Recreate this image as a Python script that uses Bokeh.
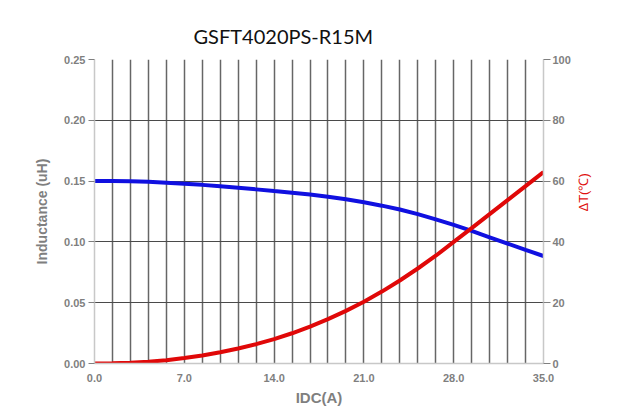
import math
from bokeh.plotting import figure
from bokeh.models import Range1d, LinearAxis, FixedTicker, NumeralTickFormatter, Title
from bokeh.embed import file_html
from bokeh.resources import INLINE

# ---- data ----
title_text = "GSFT4020PS-R15M"
current = [0.0, 1.4, 2.8, 4.2, 5.6, 7.0, 8.4, 9.8, 11.2, 12.6, 14.0, 15.4, 16.8,
           18.2, 19.6, 21.0, 22.4, 23.8, 25.2, 26.6, 28.0, 29.4, 30.8, 32.2, 33.6, 35.0]
inductance = [0.1500, 0.1500, 0.1498, 0.1494, 0.1487, 0.1478, 0.1469, 0.1458, 0.1446, 0.1432,
              0.1418, 0.1405, 0.1389, 0.1371, 0.1350, 0.1326, 0.1298, 0.1266, 0.1228, 0.1185,
              0.1140, 0.1090, 0.1038, 0.0986, 0.0934, 0.0884]
delta_t = [0.0, 0.05, 0.25, 0.6, 1.1, 1.8, 2.65, 3.7, 4.95, 6.35, 8.0, 9.95, 12.15,
           14.6, 17.3, 20.3, 23.65, 27.3, 31.25, 35.45, 40.0, 44.55, 49.15, 53.75, 58.35, 63.0]
x_ticks = [0, 7, 14, 21, 28, 35]
l_ticks = [0.0, 0.05, 0.10, 0.15, 0.20, 0.25]
r_ticks = [0, 20, 40, 60, 80, 100]
x_label = "IDC(A)"
l_label = "Inductance (uH)"
r_label = "ΔT(℃)"

GRAY = "#7f7f7f"
GRID = "#666666"
AXIS = "#c8c8c8"

p = figure(width=616, height=408, output_backend="svg", toolbar_location=None,
           x_range=Range1d(0, 35), y_range=Range1d(0, 0.25),
           min_border_left=94, min_border_right=73, min_border_top=59, min_border_bottom=43)
p.extra_y_ranges = {"temp": Range1d(0, 100)}
p.outline_line_color = None
p.background_fill_color = "white"
p.border_fill_color = "white"

t = Title(text=title_text, align="left", offset=99, standoff=24, text_font="Lato",
          text_font_size="20px", text_font_style="normal", text_color="#111111")
p.add_layout(t, "above")

# grids
xstep = 1.4
p.xgrid.ticker = FixedTicker(ticks=[xstep * i for i in range(1, 25)])
p.xgrid.grid_line_color = GRID
p.xgrid.grid_line_width = 1.5
p.ygrid.ticker = FixedTicker(ticks=l_ticks[1:])
p.ygrid.grid_line_color = "#4a4a4a"
p.ygrid.grid_line_width = 1.1

# x axis
xa = p.xaxis[0]
xa.ticker = FixedTicker(ticks=x_ticks)
xa.formatter = NumeralTickFormatter(format="0.0")
xa.axis_label = x_label

# left axis
ya = p.yaxis[0]
ya.ticker = FixedTicker(ticks=l_ticks)
ya.formatter = NumeralTickFormatter(format="0.00")
ya.axis_label = l_label

# right axis
ra = LinearAxis(y_range_name="temp", ticker=FixedTicker(ticks=r_ticks), axis_label=r_label)
p.add_layout(ra, "right")

for ax in (xa, ya, ra):
    ax.axis_line_color = AXIS
    ax.axis_line_width = 1.5
    ax.minor_tick_line_color = None
    ax.major_tick_in = 0
    ax.major_tick_line_color = GRAY
    ax.major_label_text_font = "Liberation Sans"
    ax.major_label_text_font_style = "bold"
    ax.major_label_text_font_size = "11px"
    ax.major_label_text_color = GRAY
    ax.axis_label_text_font = "Liberation Sans"
    ax.axis_label_text_font_style = "bold"
    ax.axis_label_text_color = GRAY

xa.major_tick_out = 0
xa.major_label_standoff = 10
xa.axis_label_standoff = 4
xa.axis_label_text_font_size = "15px"

ya.major_tick_out = 6
ya.major_label_standoff = 3
ya.axis_label_standoff = 11
ya.axis_label_text_font_size = "14px"

ra.major_tick_out = 7
ra.major_label_standoff = 2
ra.axis_label_standoff = 10
ra.axis_label_text_font_size = "13px"
ra.axis_label_text_font_style = "normal"
ra.axis_label_text_color = "#e01010"
ra.axis_label_orientation = math.pi / 2

p.line(current, inductance, line_color="#1010e0", line_width=4)
p.line(current, delta_t, line_color="#e00808", line_width=4, y_range_name="temp")

open("out.html", "w").write(file_html(p, INLINE))
